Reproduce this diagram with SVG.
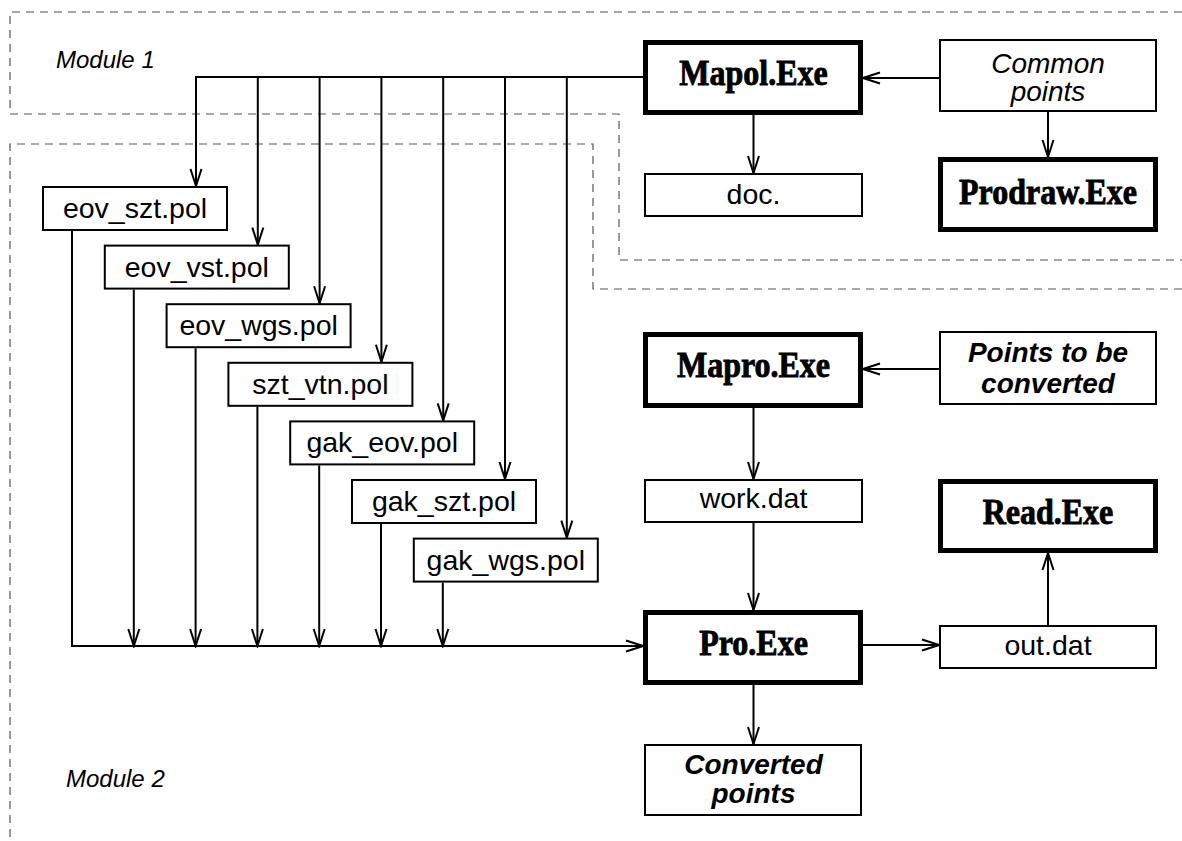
<svg xmlns="http://www.w3.org/2000/svg" width="1182" height="841" viewBox="0 0 1182 841">
<defs>
<marker id="arr" markerWidth="20" markerHeight="14" refX="18" refY="7" orient="auto" markerUnits="userSpaceOnUse">
<path d="M1,1.5 L18,7 L1,12.5" fill="none" stroke="#000" stroke-width="2"/>
</marker>
</defs>
<style>
.bg{fill:#fff}
.dash{fill:none;stroke:#555;stroke-width:1.2;stroke-dasharray:8,6}
.thin{fill:#fff;stroke:#000;stroke-width:2}
.thick{fill:#fff;stroke:#000;stroke-width:5}
.a{fill:none;stroke:#000;stroke-width:2;marker-end:url(#arr)}
.t{font-family:"Liberation Sans",Arial,sans-serif;font-size:28.5px;text-anchor:middle;fill:#000}
.i{font-family:"Liberation Sans",Arial,sans-serif;font-size:28px;font-style:italic;text-anchor:middle;fill:#000}
.bi{font-family:"Liberation Sans",Arial,sans-serif;font-size:28px;font-style:italic;font-weight:bold;text-anchor:middle;fill:#000}
.b{font-family:"Liberation Serif","Times New Roman",serif;font-size:32px;font-weight:bold;text-anchor:middle;fill:#000;stroke:#000;stroke-width:0.8}
.m{font-family:"Liberation Sans",Arial,sans-serif;font-size:24px;font-style:italic;fill:#000}
</style>
<rect class="bg" x="0" y="0" width="1182" height="841"/>
<g id="module1">
<path class="dash" d="M1182,12 H10 V114 H619 V260 H1182"/>
<text class="m" x="56" y="68">Module 1</text>
</g>
<g id="module2">
<path class="dash" d="M1182,289 H593 V144 H10 V841"/>
<text class="m" x="66" y="787">Module 2</text>
</g>
<g id="connectors">
<path class="a" d="M643,77 H196 V186"/>
<path class="a" d="M257.8,77 V244.6"/>
<path class="a" d="M319.6,77 V303.2"/>
<path class="a" d="M381.4,77 V361.8"/>
<path class="a" d="M443.2,77 V420.4"/>
<path class="a" d="M505,77 V479"/>
<path class="a" d="M566.8,77 V537.6"/>
<path class="a" d="M72,231 V646 H643"/>
<path class="a" d="M133.8,289.6 V646"/>
<path class="a" d="M195.6,348.2 V646"/>
<path class="a" d="M257.4,406.8 V646"/>
<path class="a" d="M319.2,465.4 V646"/>
<path class="a" d="M381,524 V646"/>
<path class="a" d="M442.8,582.6 V646"/>
<path class="a" d="M939,78 H863"/>
<path class="a" d="M1048,112 V157"/>
<path class="a" d="M753.5,115 V173"/>
<path class="a" d="M939,369 H863"/>
<path class="a" d="M753.5,408 V479"/>
<path class="a" d="M753.5,523 V610"/>
<path class="a" d="M863,645 H939"/>
<path class="a" d="M1048,625 V553"/>
<path class="a" d="M753.5,685 V744"/>
</g>
<g id="mapol">
<rect class="thick" x="645.5" y="42.5" width="215" height="70"/>
<text class="b" transform="translate(753.5,85) scale(1,1.1)">Mapol.Exe</text>
</g>
<g id="common">
<rect class="thin" x="940" y="40" width="216" height="71"/>
<text class="i" x="1048" y="73">Common</text>
<text class="i" x="1048" y="101">points</text>
</g>
<g id="doc">
<rect class="thin" x="645" y="174" width="217" height="42"/>
<text class="t" x="753.5" y="204">doc.</text>
</g>
<g id="prodraw">
<rect class="thick" x="940.5" y="159.5" width="215" height="70"/>
<text class="b" transform="translate(1048,204) scale(1,1.1)">Prodraw.Exe</text>
</g>
<g id="eov_szt">
<rect class="thin" x="43" y="187" width="184" height="43"/>
<text class="t" x="135" y="218">eov_szt.pol</text>
</g>
<g id="eov_vst">
<rect class="thin" x="104.8" y="245.6" width="184" height="43"/>
<text class="t" x="196.8" y="276.6">eov_vst.pol</text>
</g>
<g id="eov_wgs">
<rect class="thin" x="166.6" y="304.2" width="184" height="43"/>
<text class="t" x="258.6" y="335.2">eov_wgs.pol</text>
</g>
<g id="szt_vtn">
<rect class="thin" x="228.4" y="362.8" width="184" height="43"/>
<text class="t" x="320.4" y="393.8">szt_vtn.pol</text>
</g>
<g id="gak_eov">
<rect class="thin" x="290.2" y="421.4" width="184" height="43"/>
<text class="t" x="382.2" y="452.4">gak_eov.pol</text>
</g>
<g id="gak_szt">
<rect class="thin" x="352" y="480" width="184" height="43"/>
<text class="t" x="444" y="511">gak_szt.pol</text>
</g>
<g id="gak_wgs">
<rect class="thin" x="413.8" y="538.6" width="184" height="43"/>
<text class="t" x="505.8" y="569.6">gak_wgs.pol</text>
</g>
<g id="mapro">
<rect class="thick" x="645.5" y="334.5" width="215" height="71"/>
<text class="b" transform="translate(753.5,377) scale(1,1.1)">Mapro.Exe</text>
</g>
<g id="points">
<rect class="thin" x="940" y="332" width="216" height="72"/>
<text class="bi" x="1048" y="362">Points to be</text>
<text class="bi" x="1048" y="393">converted</text>
</g>
<g id="work">
<rect class="thin" x="645" y="480" width="217" height="42"/>
<text class="t" x="753.5" y="508">work.dat</text>
</g>
<g id="read">
<rect class="thick" x="940.5" y="481.5" width="215" height="69"/>
<text class="b" transform="translate(1048,524) scale(1,1.1)">Read.Exe</text>
</g>
<g id="pro">
<rect class="thick" x="645.5" y="612.5" width="215" height="70"/>
<text class="b" transform="translate(753.5,655) scale(1,1.1)">Pro.Exe</text>
</g>
<g id="out">
<rect class="thin" x="940" y="626" width="216" height="42"/>
<text class="t" x="1048" y="655">out.dat</text>
</g>
<g id="converted">
<rect class="thin" x="645" y="745" width="216" height="70"/>
<text class="bi" x="753.5" y="774">Converted</text>
<text class="bi" x="753.5" y="803">points</text>
</g>
</svg>
